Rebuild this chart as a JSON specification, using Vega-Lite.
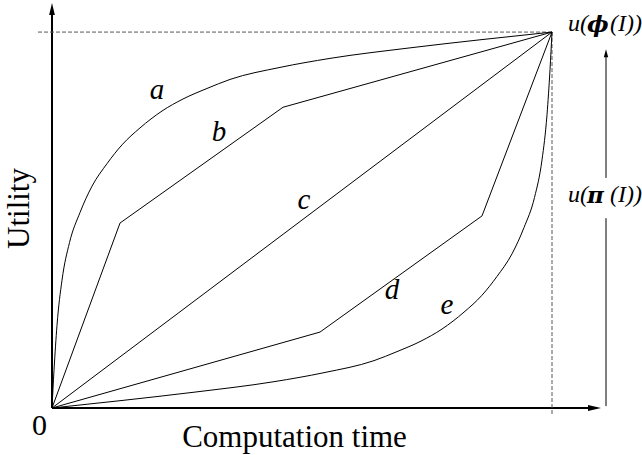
{
  "$schema": "https://vega.github.io/schema/vega-lite/v6.json",
  "width": 550,
  "height": 406,
  "autosize": "none",
  "padding": {"left": 52, "top": 2, "right": 40, "bottom": 47},
  "background": "white",
  "config": {"view": {"stroke": null}, "font": "Liberation Serif"},
  "datasets": {
    "profiles": [
      {"curve": "a", "t": 0, "u": 0},
      {"curve": "a", "t": 0.004, "u": 0.1},
      {"curve": "a", "t": 0.01, "u": 0.22},
      {"curve": "a", "t": 0.02, "u": 0.34},
      {"curve": "a", "t": 0.035, "u": 0.44},
      {"curve": "a", "t": 0.056, "u": 0.52},
      {"curve": "a", "t": 0.08, "u": 0.59},
      {"curve": "a", "t": 0.11, "u": 0.65},
      {"curve": "a", "t": 0.14, "u": 0.7},
      {"curve": "a", "t": 0.176, "u": 0.745},
      {"curve": "a", "t": 0.22, "u": 0.79},
      {"curve": "a", "t": 0.262, "u": 0.822},
      {"curve": "a", "t": 0.31, "u": 0.85},
      {"curve": "a", "t": 0.356, "u": 0.874},
      {"curve": "a", "t": 0.456, "u": 0.906},
      {"curve": "a", "t": 0.556, "u": 0.93},
      {"curve": "a", "t": 0.716, "u": 0.958},
      {"curve": "a", "t": 0.86, "u": 0.98},
      {"curve": "a", "t": 1, "u": 1},
      {"curve": "b", "t": 0, "u": 0},
      {"curve": "b", "t": 0.136, "u": 0.492},
      {"curve": "b", "t": 0.462, "u": 0.8},
      {"curve": "b", "t": 1, "u": 1},
      {"curve": "c", "t": 0, "u": 0},
      {"curve": "c", "t": 1, "u": 1},
      {"curve": "d", "t": 0, "u": 0},
      {"curve": "d", "t": 0.536, "u": 0.202},
      {"curve": "d", "t": 0.86, "u": 0.511},
      {"curve": "d", "t": 1, "u": 1},
      {"curve": "e", "t": 0, "u": 0},
      {"curve": "e", "t": 0.14, "u": 0.02},
      {"curve": "e", "t": 0.284, "u": 0.042},
      {"curve": "e", "t": 0.444, "u": 0.07},
      {"curve": "e", "t": 0.544, "u": 0.094},
      {"curve": "e", "t": 0.644, "u": 0.126},
      {"curve": "e", "t": 0.69, "u": 0.15},
      {"curve": "e", "t": 0.738, "u": 0.178},
      {"curve": "e", "t": 0.78, "u": 0.21},
      {"curve": "e", "t": 0.824, "u": 0.255},
      {"curve": "e", "t": 0.86, "u": 0.3},
      {"curve": "e", "t": 0.89, "u": 0.35},
      {"curve": "e", "t": 0.92, "u": 0.41},
      {"curve": "e", "t": 0.944, "u": 0.48},
      {"curve": "e", "t": 0.965, "u": 0.56},
      {"curve": "e", "t": 0.98, "u": 0.66},
      {"curve": "e", "t": 0.99, "u": 0.78},
      {"curve": "e", "t": 0.996, "u": 0.9},
      {"curve": "e", "t": 1, "u": 1}
    ],
    "levels": [
      {"level": "phi", "open": "u(", "greek": "ϕ", "close": "(I))", "t": 1.032, "u": 1.0216},
      {"level": "pi", "open": "u(", "greek": "π", "close": "(I))", "t": 1.032, "u": 0.567}
    ]
  },
  "layer": [
    {
      "description": "Axis lines",
      "data": {"values": [
        {"t": 0, "u": 0, "t2": 1.08, "u2": 0},
        {"t": 0, "u": 0, "t2": 0, "u2": 1.06}
      ]},
      "mark": {"type": "rule", "color": "black", "strokeWidth": 2},
      "encoding": {
        "x": {"field": "t", "type": "quantitative", "scale": {"domain": [0, 1.1], "nice": false, "zero": false},
          "axis": {
            "title": "Computation time", "domain": false, "ticks": false, "grid": false,
            "values": [0], "format": "d", "labelFont": "Liberation Serif", "labelFontSize": 30, "labelColor": "black",
            "labelFlush": false, "labelAlign": "center", "labelOffset": -13, "labelPadding": 2,
            "titleFont": "Liberation Serif", "titleFontSize": 31, "titleFontWeight": "normal", "titleColor": "black",
            "titleX": 242, "titleY": 29, "titleBaseline": "middle", "titleAlign": "center"
          }},
        "y": {"field": "u", "type": "quantitative", "scale": {"domain": [0, 1.08], "nice": false, "zero": false},
          "axis": {
            "title": "Utility", "domain": false, "ticks": false, "grid": false, "labels": false,
            "titleFont": "Liberation Serif", "titleFontSize": 31, "titleFontWeight": "normal", "titleColor": "black",
            "titleX": -33, "titleY": 206, "titleBaseline": "middle", "titleAlign": "center", "titleAngle": -90
          }},
        "x2": {"field": "t2"},
        "y2": {"field": "u2"}
      }
    },
    {
      "description": "Dashed reference lines to the maximum utility",
      "data": {"values": [
        {"t": -0.028, "u": 1, "t2": 1, "u2": 1},
        {"t": 1, "u": 1, "t2": 1, "u2": -0.016}
      ]},
      "mark": {"type": "rule", "color": "#555555", "strokeWidth": 1, "strokeDash": [4, 2]},
      "encoding": {
        "x": {"field": "t", "type": "quantitative"},
        "y": {"field": "u", "type": "quantitative"},
        "x2": {"field": "t2"},
        "y2": {"field": "u2"}
      }
    },
    {
      "description": "Range arrow on the right",
      "data": {"values": [
        {"t": 1.108, "u": 0.612, "t2": 1.108, "u2": 0.934},
        {"t": 1.108, "u": 0.005, "t2": 1.108, "u2": 0.505}
      ]},
      "mark": {"type": "rule", "color": "black", "strokeWidth": 1},
      "encoding": {
        "x": {"field": "t", "type": "quantitative"},
        "y": {"field": "u", "type": "quantitative"},
        "x2": {"field": "t2"},
        "y2": {"field": "u2"}
      }
    },
    {
      "description": "Arrowhead of the utility axis",
      "data": {"values": [{"t": 0, "u": 1.0615}]},
      "mark": {"type": "point", "shape": "M0,-1L-0.48,1L0.48,1Z", "size": 144, "filled": true, "color": "black", "opacity": 1},
      "encoding": {
        "x": {"field": "t", "type": "quantitative"},
        "y": {"field": "u", "type": "quantitative"}
      }
    },
    {
      "description": "Arrowhead of the time axis",
      "data": {"values": [{"t": 1.085, "u": 0}]},
      "mark": {"type": "point", "shape": "M1,0L-1,-0.45L-1,0.45Z", "size": 169, "filled": true, "color": "black", "opacity": 1},
      "encoding": {
        "x": {"field": "t", "type": "quantitative"},
        "y": {"field": "u", "type": "quantitative"}
      }
    },
    {
      "description": "Arrowhead of the range arrow",
      "data": {"values": [{"t": 1.108, "u": 0.944}]},
      "mark": {"type": "point", "shape": "M0,-1L-0.55,1L0.55,1Z", "size": 64, "filled": true, "color": "black", "opacity": 1},
      "encoding": {
        "x": {"field": "t", "type": "quantitative"},
        "y": {"field": "u", "type": "quantitative"}
      }
    },
    {
      "description": "Smooth profiles a and e",
      "data": {"name": "profiles"},
      "transform": [{"filter": "datum.curve === 'a' || datum.curve === 'e'"}],
      "mark": {"type": "line", "color": "black", "strokeWidth": 1, "interpolate": "monotone"},
      "encoding": {
        "x": {"field": "t", "type": "quantitative"},
        "y": {"field": "u", "type": "quantitative"},
        "detail": {"field": "curve"}
      }
    },
    {
      "description": "Piecewise-linear profiles b, c and d",
      "data": {"name": "profiles"},
      "transform": [{"filter": "datum.curve === 'b' || datum.curve === 'c' || datum.curve === 'd'"}],
      "mark": {"type": "line", "color": "black", "strokeWidth": 1},
      "encoding": {
        "x": {"field": "t", "type": "quantitative"},
        "y": {"field": "u", "type": "quantitative"},
        "detail": {"field": "curve"}
      }
    },
    {
      "description": "Profile names",
      "data": {"values": [
        {"tag": "a", "t": 0.21, "u": 0.846},
        {"tag": "b", "t": 0.334, "u": 0.734},
        {"tag": "c", "t": 0.504, "u": 0.553},
        {"tag": "d", "t": 0.68, "u": 0.314},
        {"tag": "e", "t": 0.79, "u": 0.274}
      ]},
      "mark": {"type": "text", "font": "Liberation Serif", "fontStyle": "italic", "fontSize": 29, "color": "black", "align": "center", "baseline": "middle"},
      "encoding": {
        "x": {"field": "t", "type": "quantitative"},
        "y": {"field": "u", "type": "quantitative"},
        "text": {"field": "tag"}
      }
    },
    {
      "description": "Utility levels on the right: opening u(",
      "data": {"name": "levels"},
      "mark": {"type": "text", "font": "Liberation Serif", "fontStyle": "italic", "fontSize": 24, "color": "black", "align": "left", "baseline": "middle"},
      "encoding": {
        "x": {"field": "t", "type": "quantitative"},
        "y": {"field": "u", "type": "quantitative"},
        "text": {"field": "open"}
      }
    },
    {
      "description": "Utility levels on the right: Greek letter",
      "data": {"name": "levels"},
      "mark": {"type": "text", "font": "DejaVu Serif", "fontStyle": "italic", "fontWeight": "bold", "fontSize": 23, "color": "black", "align": "left", "baseline": "middle", "dx": 19, "dy": 1},
      "encoding": {
        "x": {"field": "t", "type": "quantitative"},
        "y": {"field": "u", "type": "quantitative"},
        "text": {"field": "greek"}
      }
    },
    {
      "description": "Utility levels on the right: closing (I))",
      "data": {"name": "levels"},
      "mark": {"type": "text", "font": "Liberation Serif", "fontStyle": "italic", "fontSize": 24, "color": "black", "align": "left", "baseline": "middle", "dx": 42},
      "encoding": {
        "x": {"field": "t", "type": "quantitative"},
        "y": {"field": "u", "type": "quantitative"},
        "text": {"field": "close"}
      }
    }
  ]
}
